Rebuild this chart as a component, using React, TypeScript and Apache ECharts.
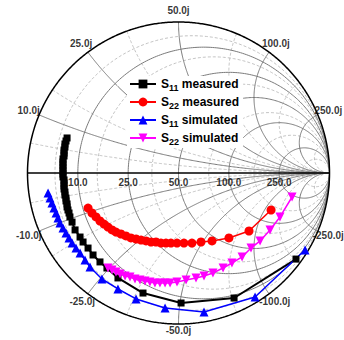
import React, { useEffect, useRef } from "react";
import * as echarts from "echarts";

// ---- data: reflection coefficients (real / imaginary parts) ----
const seriesNames = ["S11 measured", "S22 measured", "S11 simulated", "S22 simulated"];

const s11MeasRe = [-0.738, -0.745, -0.752, -0.752, -0.758, -0.758, -0.758, -0.765, -0.765, -0.765, -0.765, -0.765, -0.765, -0.765, -0.758, -0.758, -0.758, -0.758, -0.752, -0.752, -0.745, -0.745, -0.738, -0.738, -0.732, -0.725, -0.719, -0.705, -0.685, -0.652, -0.632, -0.599, -0.566, -0.52, -0.474, -0.401, -0.235, 0.017, 0.368, 0.778];
const s11MeasIm = [0.232, 0.212, 0.192, 0.172, 0.152, 0.132, 0.113, 0.093, 0.073, 0.053, 0.033, 0.013, -0.007, -0.026, -0.046, -0.066, -0.086, -0.106, -0.126, -0.146, -0.166, -0.185, -0.205, -0.225, -0.245, -0.265, -0.291, -0.325, -0.377, -0.424, -0.457, -0.497, -0.543, -0.589, -0.629, -0.695, -0.795, -0.861, -0.828, -0.57];

const s22MeasRe = [-0.599, -0.573, -0.546, -0.52, -0.493, -0.467, -0.44, -0.414, -0.381, -0.348, -0.315, -0.281, -0.248, -0.215, -0.182, -0.149, -0.116, -0.083, -0.05, -0.01, 0.036, 0.089, 0.149, 0.222, 0.334, 0.467, 0.613];
const s22MeasIm = [-0.232, -0.265, -0.291, -0.318, -0.338, -0.358, -0.377, -0.391, -0.404, -0.417, -0.43, -0.437, -0.444, -0.45, -0.457, -0.457, -0.464, -0.464, -0.464, -0.464, -0.464, -0.464, -0.457, -0.45, -0.43, -0.384, -0.245];

const s11SimRe = [-0.864, -0.851, -0.838, -0.825, -0.811, -0.798, -0.785, -0.765, -0.745, -0.725, -0.705, -0.679, -0.652, -0.619, -0.586, -0.507, -0.401, -0.281, -0.089, 0.169, 0.507, 0.838];
const s11SimIm = [-0.132, -0.166, -0.199, -0.232, -0.265, -0.298, -0.331, -0.364, -0.397, -0.43, -0.464, -0.497, -0.53, -0.576, -0.623, -0.702, -0.768, -0.834, -0.894, -0.921, -0.821, -0.51];

const s22SimRe = [-0.467, -0.44, -0.414, -0.387, -0.354, -0.321, -0.288, -0.255, -0.222, -0.189, -0.156, -0.123, -0.089, -0.056, -0.01, 0.05, 0.116, 0.169, 0.228, 0.295, 0.354, 0.421, 0.48, 0.54, 0.606, 0.672, 0.752];
const s22SimIm = [-0.629, -0.642, -0.656, -0.669, -0.682, -0.689, -0.702, -0.709, -0.715, -0.722, -0.728, -0.728, -0.728, -0.728, -0.722, -0.709, -0.695, -0.682, -0.662, -0.629, -0.596, -0.556, -0.497, -0.45, -0.377, -0.291, -0.159];

// ---- Smith chart grid values (normalized), reference impedance ----
const z0 = 50;
const resistanceMajor = [0.2, 0.5, 1, 2, 5];
const reactanceMajor = [0.2, 0.5, 1, 2, 5];
const resistanceMinor = [0.1, 0.3, 0.7, 1.5, 3, 10];
const reactanceMinor = [0.1, 0.3, 0.7, 1.5, 3, 10];

const FONT = "Liberation Sans, Arial, sans-serif";

function gammaFromZ(r: number, x: number): number[] {
  const d = (r + 1) * (r + 1) + x * x;
  return [(r * r + x * x - 1) / d, (2 * x) / d];
}
function rCircle(r: number, n = 360): number[][] {
  const c = r / (1 + r);
  const rad = 1 / (1 + r);
  const pts: number[][] = [];
  for (let i = 0; i <= n; i++) {
    const a = (i / n) * Math.PI * 2;
    pts.push([c + rad * Math.cos(a), rad * Math.sin(a)]);
  }
  return pts;
}
function xArc(x: number, n = 400): number[][] {
  const pts: number[][] = [];
  for (let i = 0; i < n; i++) {
    const r = Math.tan(((i / n) * Math.PI) / 2);
    pts.push(gammaFromZ(r, x));
  }
  pts.push([1, 0]);
  return pts;
}
const zip = (a: number[], b: number[]) => a.map((v, i) => [v, b[i]]);

export default function App() {
  const ref = useRef<HTMLDivElement>(null);
  useEffect(() => {
    if (!ref.current) return;
    const chart = echarts.init(ref.current, undefined, { renderer: "svg" });

    const gridLine = (data: number[][], color: string, width: number, type: any) => ({
      type: "line",
      data,
      symbol: "none",
      showSymbol: false,
      silent: true,
      clip: false,
      lineStyle: { color, width, type },
      z: 1,
    });

    const gridSeries: any[] = [];
    resistanceMinor.forEach((r) => gridSeries.push(gridLine(rCircle(r), "#b4b4b4", 0.8, [3, 2])));
    reactanceMinor.forEach((x) => {
      gridSeries.push(gridLine(xArc(x), "#b4b4b4", 0.8, [3, 2]));
      gridSeries.push(gridLine(xArc(-x), "#b4b4b4", 0.8, [3, 2]));
    });
    resistanceMajor.forEach((r) => gridSeries.push(gridLine(rCircle(r), "#7a7a7a", 1, "solid")));
    reactanceMajor.forEach((x) => {
      gridSeries.push(gridLine(xArc(x), "#7a7a7a", 1, "solid"));
      gridSeries.push(gridLine(xArc(-x), "#7a7a7a", 1, "solid"));
    });
    gridSeries.push(gridLine(rCircle(0, 720), "#000", 1.5, "solid"));
    gridSeries.push(gridLine([[-1, 0], [1, 0]], "#000", 1.5, "solid"));

    // labels
    const labelData: any[] = [];
    resistanceMajor.forEach((r) => {
      labelData.push({ value: [(r - 1) / (r + 1), -0.06], name: (r * z0).toFixed(1) });
    });
    reactanceMajor.forEach((x) => {
      [x, -x].forEach((xx) => {
        const g = gammaFromZ(0, xx);
        const a = Math.atan2(g[1], g[0]);
        const s = Math.min(0, Math.sin(a));
        const lr = 1.075 - 0.03 * Math.pow(s, 4);
        labelData.push({ value: [lr * Math.cos(a), lr * Math.sin(a)], name: (xx * z0).toFixed(1) + "j" });
      });
    });
    const labelSeries = {
      type: "scatter",
      data: labelData,
      symbolSize: 0,
      silent: true,
      clip: false,
      z: 3,
      label: {
        show: true,
        position: "inside",
        formatter: "{b}",
        color: "#000",
        fontSize: 10,
        fontWeight: "bold",
        fontFamily: FONT,
      },
    };

    const dataSeries = [
      { name: seriesNames[0], re: s11MeasRe, im: s11MeasIm, color: "#000000", symbol: "rect", size: 7, width: 2 },
      { name: seriesNames[1], re: s22MeasRe, im: s22MeasIm, color: "#ff0000", symbol: "circle", size: 9, width: 1.5 },
      { name: seriesNames[2], re: s11SimRe, im: s11SimIm, color: "#0000ff", symbol: "triangle", size: 9, width: 1.5 },
      { name: seriesNames[3], re: s22SimRe, im: s22SimIm, color: "#ff00ff", symbol: "path://M0,0L10,0L5,9Z", size: 9, width: 1.5 },
    ].map((s) => ({
      type: "line",
      name: s.name,
      data: zip(s.re, s.im),
      symbol: s.symbol,
      symbolSize: s.size,
      showSymbol: true,
      clip: false,
      z: 5,
      itemStyle: { color: s.color },
      lineStyle: { color: s.color, width: s.width },
    }));

    chart.setOption({
      animation: false,
      backgroundColor: "#fff",
      grid: { left: 27.5, top: 22, width: 302, height: 302, containLabel: false },
      xAxis: { type: "value", min: -1, max: 1, show: false },
      yAxis: { type: "value", min: -1, max: 1, show: false },
      legend: {
        data: seriesNames,
        orient: "vertical",
        left: 127,
        top: 76,
        itemWidth: 26,
        itemHeight: 11,
        itemGap: 4,
        padding: [2, 4, 2, 2],
        backgroundColor: "#fff",
        formatter: (name: string) => {
          const m = name.match(/^S(\d+) (.*)$/);
          if (!m) return name;
          return `{s|S}{sub|${m[1]}}{s| ${m[2]}}`;
        },
        textStyle: {
          rich: {
            s: { fontSize: 12, fontWeight: "bold", fontFamily: FONT, color: "#000", lineHeight: 16 },
            sub: { fontSize: 9, fontWeight: "bold", fontFamily: FONT, color: "#000", verticalAlign: "bottom", lineHeight: 7 },
          },
        },
      },
      series: [...gridSeries, labelSeries, ...dataSeries],
    });
    return () => chart.dispose();
  }, []);
  return <div ref={ref} style={{ position: "fixed", left: 0, top: 0, width: 344, height: 340 }} />;
}
